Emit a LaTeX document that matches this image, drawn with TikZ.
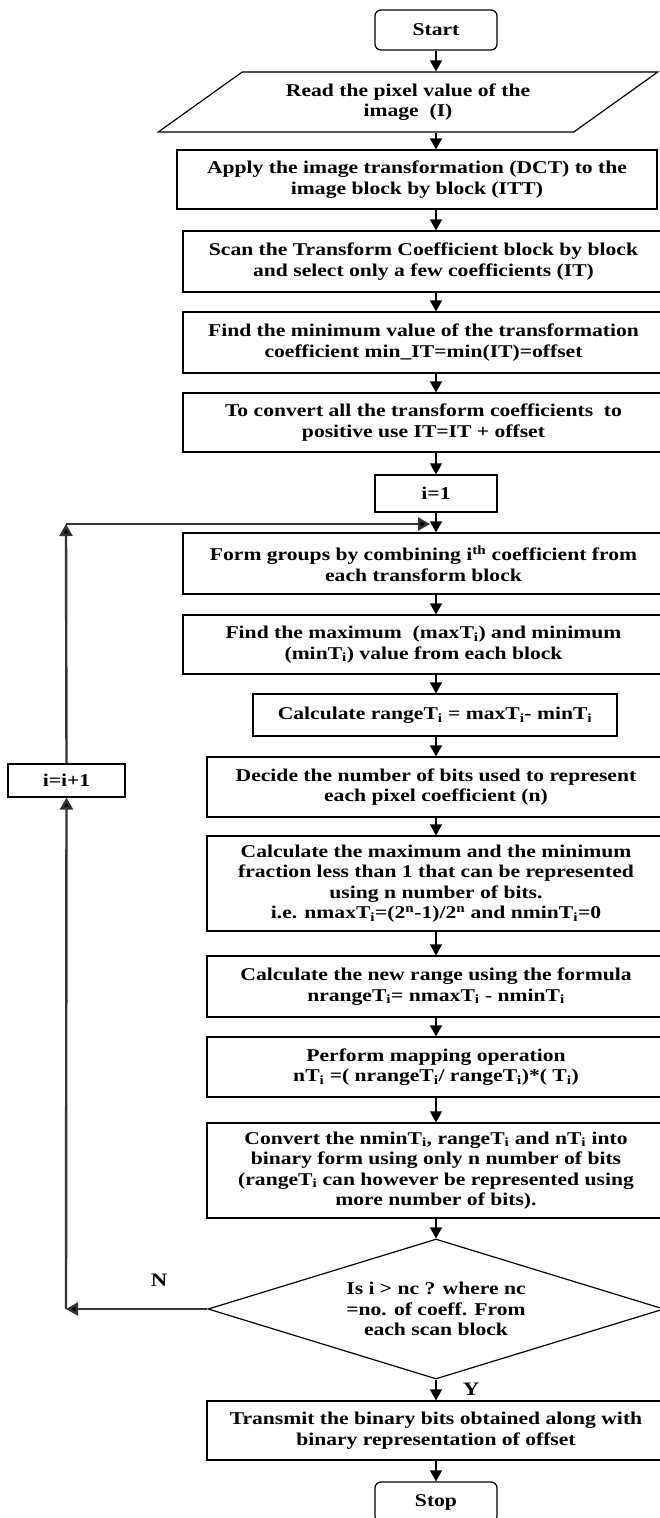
\documentclass[tikz,border=0pt]{standalone}
\usepackage{fontspec}
\setmainfont{Liberation Serif}[FakeStretch=1.2]
\usetikzlibrary{arrows.meta,shapes.geometric}
\begin{document}
\begin{tikzpicture}[x=1pt,y=-1pt,
  txt/.style={font=\fontsize{18}{20.5}\selectfont\bfseries, align=center},
  boxnode/.style={txt, draw, line width=1.2pt, inner sep=0pt},
  term/.style={boxnode, rounded corners=6pt, minimum width=122pt, minimum height=40pt},
  arr/.style={line width=1.2pt, -{Triangle[width=12pt,length=11pt]}},
  back/.style={line width=2.4pt, draw=black!80, -{Triangle[width=13pt,length=12pt,fill=black]}},
  lbl/.style={font=\fontsize{19}{20}\selectfont\bfseries}
]
\useasboundingbox (0,0) rectangle (659,1518);

\node[term] (start) at (436,30) {Start};
\node[boxnode, trapezium, trapezium left angle=31, trapezium right angle=149,
      trapezium stretches=true, minimum width=500pt, minimum height=60pt] (read) at (408,102)
  {Read the pixel value of the\\ image\ \ (I)};
\node[boxnode, minimum width=480pt, minimum height=59pt] (apply) at (417,179.5)
  {Apply the image transformation (DCT) to the\\ image block by block (ITT)};
\node[boxnode, minimum width=481pt, minimum height=61pt] (scan) at (423.5,261.5)
  {Scan the Transform Coefficient block by block\\ and select only a few coefficients (IT)};
\node[boxnode, minimum width=481pt, minimum height=61pt] (fmin) at (423.5,342.5)
  {Find the minimum value of the transformation\\ coefficient min\_IT=min(IT)=offset};
\node[boxnode, minimum width=481pt, minimum height=59pt] (conv) at (423.5,422.5)
  {To convert all the transform coefficients\ \ to\\ positive use IT=IT + offset};
\node[boxnode, minimum width=122pt, minimum height=37pt] (ione) at (436,493.5) {i=1};
\node[boxnode, minimum width=481pt, minimum height=61pt] (form) at (423.5,563.5)
  {Form groups by combining i\textsuperscript{th} coefficient from\\ each transform block};
\node[boxnode, minimum width=481pt, minimum height=59pt] (fmax) at (423.5,644.5)
  {Find the maximum\ \ (maxT\textsubscript{i}) and minimum\\ (minT\textsubscript{i}) value from each block};
\node[boxnode, minimum width=364pt, minimum height=42pt] (range) at (435,715)
  {Calculate rangeT\textsubscript{i} = maxT\textsubscript{i}- minT\textsubscript{i}};
\node[boxnode, minimum width=458pt, minimum height=60pt] (decide) at (436,787)
  {Decide the number of bits used to represent\\ each pixel coefficient (n)};
\node[boxnode, minimum width=458pt, minimum height=95pt] (cmax) at (436,883.5)
  {Calculate the maximum and the minimum\\ fraction less than 1 that can be represented\\ using n number of bits.\\ i.e. nmaxT\textsubscript{i}=(2\textsuperscript{n}-1)/2\textsuperscript{n} and nminT\textsubscript{i}=0};
\node[boxnode, minimum width=458pt, minimum height=61pt] (nrange) at (436,986.5)
  {Calculate the new range using the formula\\ nrangeT\textsubscript{i}= nmaxT\textsubscript{i} - nminT\textsubscript{i}};
\node[boxnode, minimum width=458pt, minimum height=60pt] (mapn) at (436,1067)
  {Perform mapping operation\\ nT\textsubscript{i} =( nrangeT\textsubscript{i}/ rangeT\textsubscript{i})*( T\textsubscript{i})};
\node[boxnode, minimum width=458pt, minimum height=95pt] (cbin) at (436,1170.5)
  {Convert the nminT\textsubscript{i}, rangeT\textsubscript{i} and nT\textsubscript{i} into\\ binary form using only n number of bits\\ (rangeT\textsubscript{i} can however be represented using\\ more number of bits).};
\node[boxnode, diamond, aspect=3.26, minimum width=456pt, minimum height=140pt] (dec) at (436,1309)
  {Is i > nc ? where nc\\ =no. of coeff. From\\ each scan block};
\node[boxnode, minimum width=458pt, minimum height=59pt] (trans) at (436,1430.5)
  {Transmit the binary bits obtained along with\\ binary representation of offset};
\node[term] (stop) at (436,1502) {Stop};
\node[boxnode, minimum width=117pt, minimum height=33pt] (inc) at (66.5,780.5) {i=i+1};

\coordinate (cB) at (66,1309);
\coordinate (cA) at (66,524);
\coordinate (join) at (430,524);

\draw[arr] (start) -- (start.south |- read.north);
\draw[arr] (read.south -| start.south) -- (start.south |- apply.north);
\draw[arr] (start.south |- apply.south) -- (start.south |- scan.north);
\draw[arr] (start.south |- scan.south) -- (start.south |- fmin.north);
\draw[arr] (start.south |- fmin.south) -- (start.south |- conv.north);
\draw[arr] (start.south |- conv.south) -- (ione);
\draw[arr] (ione) -- (start.south |- form.north);
\draw[arr] (start.south |- form.south) -- (start.south |- fmax.north);
\draw[arr] (start.south |- fmax.south) -- (start.south |- range.north);
\draw[arr] (start.south |- range.south) -- (decide);
\draw[arr] (decide) -- (cmax);
\draw[arr] (cmax) -- (nrange);
\draw[arr] (nrange) -- (mapn);
\draw[arr] (mapn) -- (cbin);
\draw[arr] (cbin) -- (dec);
\draw[arr] (dec) -- (trans);
\draw[arr] (trans) -- (stop);

\draw[back] (dec.west) -- (cB);
\draw[back] (cB) -- (inc.south);
\draw[back] (inc.north) -- (cA);
\draw[back] (cA) -- (join);

\node[lbl] (nlab) at (159,1280) {N};
\node[lbl] (ylab) at (471,1389) {Y};
\end{tikzpicture}
\end{document}
